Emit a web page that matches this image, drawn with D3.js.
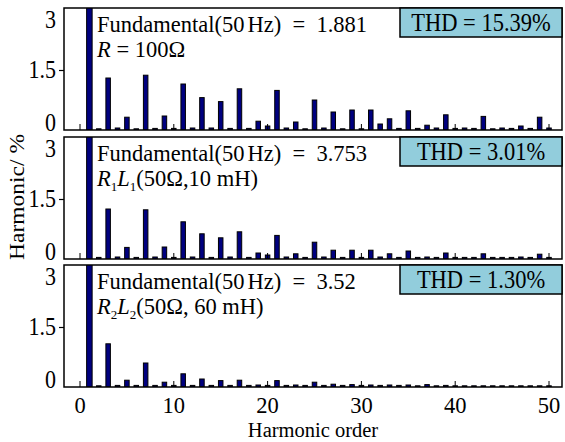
<!DOCTYPE html>
<html>
<head>
<meta charset="utf-8">
<script src="https://cdn.jsdelivr.net/npm/d3@7"></script>
<style>
  html, body { margin: 0; padding: 0; background: #fff; }
  svg { display: block; }
  svg text, svg tspan { font-family: "Liberation Serif", "Times New Roman", serif !important; fill: #000; }
</style>
</head>
<body>
<svg id="chart" width="565" height="442" font-family="Liberation Serif"></svg>
<script>
// Harmonic spectra (percent of fundamental) for orders 0..50
const orders = d3.range(0, 51);

const spectrumR = [
  0, 100, 0.03, 1.30, 0.05, 0.32, 0.03, 1.37, 0.04, 0.35,
  0.04, 1.15, 0.05, 0.81, 0.05, 0.71, 0.04, 1.03, 0.04, 0.22,
  0.10, 0.99, 0.05, 0.20, 0.03, 0.75, 0.05, 0.45, 0.03, 0.50,
  0.03, 0.50, 0.15, 0.28, 0.04, 0.48, 0.04, 0.12, 0.05, 0.38,
  0.04, 0.05, 0.04, 0.34, 0.03, 0.05, 0.04, 0.10, 0.04, 0.32,
  0.05
];

const spectrumR1L1 = [
  0, 100, 0.04, 1.25, 0.05, 0.29, 0.04, 1.23, 0.05, 0.30,
  0.04, 0.93, 0.05, 0.63, 0.04, 0.53, 0.05, 0.68, 0.04, 0.15,
  0.10, 0.59, 0.05, 0.13, 0.04, 0.42, 0.05, 0.22, 0.04, 0.22,
  0.04, 0.22, 0.05, 0.13, 0.04, 0.20, 0.04, 0.05, 0.04, 0.15,
  0.04, 0.04, 0.04, 0.13, 0.04, 0.04, 0.04, 0.05, 0.04, 0.12,
  0.04
];

const spectrumR2L2 = [
  0, 100, 0.03, 1.08, 0.04, 0.17, 0.04, 0.60, 0.04, 0.12,
  0.04, 0.33, 0.04, 0.20, 0.04, 0.16, 0.04, 0.17, 0.04, 0.05,
  0.04, 0.16, 0.04, 0.05, 0.04, 0.12, 0.04, 0.07, 0.04, 0.06,
  0.04, 0.05, 0.04, 0.05, 0.04, 0.05, 0.03, 0.06, 0.03, 0.04,
  0.03, 0.03, 0.03, 0.03, 0.03, 0.03, 0.03, 0.03, 0.03, 0.03,
  0.03
];

const fundamentals = ["1.881", "3.753", "3.52"];
const thdLabels = ["15.39%", "3.01%", "1.30%"];
const yTicks = [0, 1.5, 3];
const xTicks = [0, 10, 20, 30, 40, 50];

const panels = [
  { values: spectrumR,    fund: fundamentals[0], thd: thdLabels[0], load: "R" },
  { values: spectrumR1L1, fund: fundamentals[1], thd: thdLabels[1], load: "RL1" },
  { values: spectrumR2L2, fund: fundamentals[2], thd: thdLabels[2], load: "RL2" }
];

const svg = d3.select("#chart");
const SERIF = "Liberation Serif, Times New Roman, serif";

// text placed at a baseline point, optionally stretched vertically about it
function label(parent, x, y, size, anchor, stretch) {
  return parent.append("g")
    .attr("transform", `translate(${x},${y}) scale(1,${stretch || 1})`)
    .append("text")
    .attr("x", 0).attr("y", 0)
    .attr("font-family", SERIF)
    .attr("font-size", size)
    .attr("text-anchor", anchor || "start");
}

const frameLeft = 64, frameRight = 562;
const panelTops = [8, 137, 265];
const panelHeight = 122;

const x = d3.scaleLinear().domain([0, 50]).range([80, 549]);
const barW = 4.5;
const fundW = 5.5;
const barFill = "#00007f";
const boxFill = "#92cddc";

panels.forEach((p, i) => {
  const top = panelTops[i];
  const bottom = top + panelHeight;
  const y = d3.scaleLinear().domain([0, 3.05]).range([bottom, top]);

  const g = svg.append("g");

  const clipId = "clip" + i;
  svg.append("clipPath").attr("id", clipId)
    .append("rect")
    .attr("x", frameLeft).attr("y", top)
    .attr("width", frameRight - frameLeft).attr("height", panelHeight);

  // bars
  g.append("g").attr("clip-path", `url(#${clipId})`)
    .selectAll("rect")
    .data(orders.filter(h => p.values[h] > 0))
    .join("rect")
    .attr("x", h => x(h) - (h === 1 ? fundW : barW) / 2)
    .attr("y", h => y(p.values[h]))
    .attr("width", h => h === 1 ? fundW : barW)
    .attr("height", h => y(0) - y(p.values[h]))
    .attr("fill", barFill)
    .attr("stroke", "#000")
    .attr("stroke-width", 1);

  // inward ticks on the bottom edge
  g.append("g")
    .selectAll("line")
    .data(xTicks)
    .join("line")
    .attr("x1", d => x(d)).attr("x2", d => x(d))
    .attr("y1", bottom).attr("y2", bottom - 6)
    .attr("stroke", "#000").attr("stroke-width", 1);

  // frame
  g.append("rect")
    .attr("x", frameLeft).attr("y", top)
    .attr("width", frameRight - frameLeft).attr("height", panelHeight)
    .attr("fill", "none").attr("stroke", "#000").attr("stroke-width", 1.5);

  // y axis
  const yAxis = d3.axisLeft(y).tickValues(yTicks).tickSize(5).tickPadding(3)
    .tickFormat(d3.format("~g"));
  const ya = g.append("g").attr("transform", `translate(${frameLeft},0)`).call(yAxis);
  ya.attr("font-family", SERIF);
  ya.select(".domain").remove();
  ya.selectAll(".tick line").attr("stroke", "#000").attr("stroke-width", 1.2)
    .attr("opacity", d => d === 1.5 ? 1 : 0);
  ya.selectAll(".tick text")
    .attr("font-size", 22)
    .attr("font-family", SERIF)
    .attr("fill", "#000")
    .attr("dy", null)
    .attr("transform", "scale(1,1.12)")
    .attr("y", d => d === 3 ? 16 : d === 0 ? 0 : 7);

  // annotation text
  const tx = 97;
  const t1 = label(g, tx, top + 24, 22.5);
  t1.append("tspan").text("Fundamental(50");
  t1.append("tspan").attr("dx", 3).text("Hz)  =  " + p.fund);
  t1.attr("xml:space", "preserve").style("white-space", "pre");

  const t2 = label(g, tx, top + 49, 22.5);
  if (p.load === "R") {
    t2.append("tspan").attr("font-style", "italic").text("R");
    t2.append("tspan").style("white-space", "pre").text(" = 100Ω");
  } else {
    const sub = p.load === "RL1" ? "1" : "2";
    const tail = p.load === "RL1" ? "(50Ω,10 mH)" : "(50Ω, 60 mH)";
    t2.append("tspan").attr("font-style", "italic").text("R");
    t2.append("tspan").attr("font-size", 13).attr("dy", 5).text(sub);
    t2.append("tspan").attr("font-style", "italic").attr("dy", -5).text("L");
    t2.append("tspan").attr("font-size", 13).attr("dy", 5).text(sub);
    t2.append("tspan").attr("dy", -5).text(tail);
  }

  // THD box
  g.append("rect")
    .attr("x", 400).attr("y", top)
    .attr("width", frameRight - 400).attr("height", 29)
    .attr("fill", boxFill).attr("stroke", "#000").attr("stroke-width", 1.5);
  label(g, 481, top + 23, 22.5, "middle", 1.08).text("THD = " + p.thd);

  // x tick labels below the last panel
  if (i === panels.length - 1) {
    xTicks.forEach(d => {
      label(g, x(d), bottom + 26, 22.5, "middle").text(d);
    });
  }
});

// axis titles
label(svg, 313, 437, 20.5, "middle").text("Harmonic order");

svg.append("g")
  .attr("transform", "translate(24,197) rotate(-90) scale(1.12,1)")
  .append("text")
  .attr("font-family", SERIF)
  .attr("text-anchor", "middle").attr("font-size", 21)
  .text("Harmonic/ %");
</script>
</body>
</html>
